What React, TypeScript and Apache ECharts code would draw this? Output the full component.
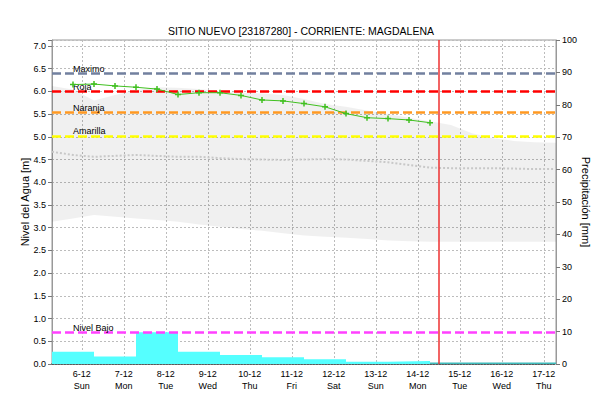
import React, { useEffect, useRef } from 'react';
import * as echarts from 'echarts';

const TITLE = 'SITIO NUEVO [23187280] - CORRIENTE: MAGDALENA';
const LEFT_NAME = 'Nivel del Agua [m]';
const RIGHT_NAME = 'Precipitación [mm]';

const axisStart = '2020-12-05 07:00';
const axisEnd = '2020-12-17 07:00';
const firstDay = '2020-12-06 00:00';
const nowTime = '2020-12-14 12:00';

const dayLabels = ['6-12', '7-12', '8-12', '9-12', '10-12', '11-12', '12-12', '13-12', '14-12', '15-12', '16-12', '17-12'];
const weekDays = ['Sun', 'Mon', 'Tue', 'Wed', 'Thu', 'Fri', 'Sat', 'Sun', 'Mon', 'Tue', 'Wed', 'Thu'];

const obsTimes = [
  '2020-12-05 19:00', '2020-12-06 07:00', '2020-12-06 19:00', '2020-12-07 07:00', '2020-12-07 19:00',
  '2020-12-08 07:00', '2020-12-08 19:00', '2020-12-09 07:00', '2020-12-09 19:00', '2020-12-10 07:00',
  '2020-12-10 19:00', '2020-12-11 07:00', '2020-12-11 19:00', '2020-12-12 07:00', '2020-12-12 19:00',
  '2020-12-13 07:00', '2020-12-13 19:00', '2020-12-14 07:00',
];
const obsLevels = [6.15, 6.16, 6.12, 6.09, 6.05, 5.93, 5.97, 5.97, 5.91, 5.81, 5.79, 5.73, 5.66, 5.51, 5.42, 5.4, 5.37, 5.31];

const bandTimes = [
  '2020-12-05 07:00', '2020-12-05 19:00', '2020-12-06 07:00', '2020-12-06 19:00', '2020-12-07 07:00',
  '2020-12-07 19:00', '2020-12-08 07:00', '2020-12-08 19:00', '2020-12-09 07:00', '2020-12-09 19:00',
  '2020-12-10 07:00', '2020-12-10 19:00', '2020-12-11 07:00', '2020-12-11 19:00', '2020-12-12 07:00',
  '2020-12-12 19:00', '2020-12-13 07:00', '2020-12-13 19:00', '2020-12-14 07:00', '2020-12-14 19:00',
  '2020-12-15 07:00', '2020-12-15 19:00', '2020-12-16 07:00', '2020-12-16 19:00', '2020-12-17 07:00',
];
const bandUpper = [6.12, 6.04, 5.8, 5.92, 6.03, 6.09, 6.08, 6.05, 6.0, 5.97, 5.95, 5.92, 5.83, 5.72, 5.66, 5.58, 5.5, 5.42, 5.34, 5.26, 5.08, 4.97, 4.91, 4.88, 4.87];
const bandLower = [3.13, 3.2, 3.28, 3.24, 3.2, 3.17, 3.13, 3.07, 3.02, 2.97, 2.93, 2.88, 2.83, 2.8, 2.78, 2.75, 2.72, 2.7, 2.69, 2.69, 2.69, 2.69, 2.69, 2.69, 2.69];
const bandMedian = [4.67, 4.6, 4.56, 4.58, 4.6, 4.58, 4.56, 4.56, 4.53, 4.51, 4.5, 4.49, 4.5, 4.51, 4.5, 4.47, 4.44, 4.38, 4.32, 4.31, 4.31, 4.31, 4.3, 4.29, 4.29];

const rainStarts = [
  '2020-12-05 07:00', '2020-12-06 07:00', '2020-12-07 07:00', '2020-12-08 07:00', '2020-12-09 07:00',
  '2020-12-10 07:00', '2020-12-11 07:00', '2020-12-12 07:00', '2020-12-13 07:00',
];
const rainValues = [3.8, 2.3, 9.8, 3.8, 2.8, 2.1, 1.45, 0.7, 0.9];
const rainEnd = '2020-12-14 07:00';

const fcRainStarts = ['2020-12-14 07:00', '2020-12-15 07:00', '2020-12-16 07:00'];
const fcRainValues = [0.5, 0.5, 0.5];
const fcRainEnd = '2020-12-17 07:00';

const thresholdNames = ['Maximo', 'Roja', 'Naranja', 'Amarilla', 'Nivel Bajo'];
const thresholdValues = [6.4, 6.0, 5.53, 5.02, 0.7];
const thresholdColors = ['#72809f', '#ff0000', '#ff9922', '#ffff00', '#ff40ff'];

const DAY = 86400000;
const FONT = 'Liberation Sans, Arial, sans-serif';

const toMs = (s: string) => {
  const [d, t] = s.split(' ');
  const [y, m, dd] = d.split('-').map(Number);
  const [hh, mm] = t.split(':').map(Number);
  return new Date(y, m - 1, dd, hh, mm).getTime();
};

const stepData = (starts: string[], vals: number[], end: string) => {
  const out: [number, number][] = starts.map((s, i) => [toMs(s), vals[i]]);
  out.push([toMs(end), vals[vals.length - 1]]);
  return out;
};

export default function App() {
  const ref = useRef<HTMLDivElement>(null);
  useEffect(() => {
    if (!ref.current) return;
    const chart = echarts.init(ref.current, undefined, { renderer: 'svg' });
    const day0 = toMs(firstDay);
    const gridLine = { show: true, lineStyle: { color: '#bcbcbc', type: [2, 2] as any, width: 1 } };

    const option: any = {
      animation: false,
      textStyle: { fontFamily: FONT },
      title: {
        text: TITLE,
        left: 'center',
        top: 20,
        textStyle: { fontSize: 10.5, fontWeight: 'normal', color: '#000', fontFamily: FONT },
      },
      grid: {
        left: 52, right: 46, top: 40, bottom: 40,
        show: true, borderColor: '#999', borderWidth: 1,
        outerBoundsMode: 'none', containLabel: false,
      },
      xAxis: {
        type: 'time',
        min: toMs(axisStart),
        max: toMs(axisEnd),
        minInterval: DAY,
        maxInterval: DAY,
        splitNumber: 12,
        axisLine: { show: true, lineStyle: { color: '#333', type: 'dotted', width: 1.5 } },
        axisTick: { show: false },
        axisLabel: {
          fontSize: 9,
          lineHeight: 12,
          color: '#000',
          margin: 4,
          hideOverlap: false,
          fontFamily: FONT,
          formatter: (v: number) => {
            const idx = Math.round((v - day0) / DAY);
            if (Math.abs(v - (day0 + idx * DAY)) > 60000) return '';
            if (idx < 0 || idx >= dayLabels.length) return '';
            return dayLabels[idx] + '\n' + weekDays[idx];
          },
        },
        splitLine: gridLine,
      },
      yAxis: [
        {
          type: 'value',
          min: 0,
          max: 7.13,
          interval: 0.5,
          position: 'left',
          name: LEFT_NAME,
          nameLocation: 'middle',
          nameGap: 22,
          nameMoveOverlap: false,
          nameTextStyle: { fontSize: 11, color: '#000', fontFamily: FONT },
          axisLine: { show: true, lineStyle: { color: '#999' } },
          axisTick: { show: true, length: 4, lineStyle: { color: '#777' } },
          axisLabel: {
            fontSize: 9,
            color: '#000',
            margin: 6,
            fontFamily: FONT,
            formatter: (v: number) => (Math.abs(v / 0.5 - Math.round(v / 0.5)) > 1e-6 ? '' : v.toFixed(1)),
          },
          splitLine: gridLine,
        },
        {
          type: 'value',
          min: 0,
          max: 100,
          interval: 10,
          position: 'right',
          name: RIGHT_NAME,
          nameLocation: 'middle',
          nameRotate: -90,
          nameGap: 24,
          nameMoveOverlap: false,
          nameTextStyle: { fontSize: 11, color: '#000', fontFamily: FONT },
          axisLine: { show: true, lineStyle: { color: '#999' } },
          axisTick: { show: true, length: 4, lineStyle: { color: '#777' } },
          axisLabel: { fontSize: 9, color: '#000', margin: 6, fontFamily: FONT },
          splitLine: { show: false },
        },
      ],
      series: [
        {
          type: 'line',
          name: 'bandLow',
          stack: 'band',
          yAxisIndex: 0,
          symbol: 'none',
          silent: true,
          lineStyle: { width: 0, opacity: 0 },
          data: bandTimes.map((t, i) => [toMs(t), bandLower[i]]),
          z: 1,
        },
        {
          type: 'line',
          name: 'band',
          stack: 'band',
          yAxisIndex: 0,
          symbol: 'none',
          silent: true,
          lineStyle: { width: 0, opacity: 0 },
          areaStyle: { color: 'rgba(0,0,0,0.058)', opacity: 1 },
          data: bandTimes.map((t, i) => [toMs(t), +(bandUpper[i] - bandLower[i]).toFixed(3)]),
          z: 1,
        },
        {
          type: 'line',
          name: 'median',
          yAxisIndex: 0,
          symbol: 'none',
          silent: true,
          lineStyle: { color: '#c8c8c8', width: 2, type: [2, 2] },
          data: bandTimes.map((t, i) => [toMs(t), bandMedian[i]]),
          z: 2,
        },
        {
          type: 'line',
          name: 'rain',
          yAxisIndex: 1,
          step: 'end',
          symbol: 'none',
          silent: true,
          lineStyle: { width: 0, opacity: 0 },
          areaStyle: { color: '#55ffff', opacity: 1 },
          data: stepData(rainStarts, rainValues, rainEnd),
          z: 3,
        },
        {
          type: 'line',
          name: 'rainForecast',
          yAxisIndex: 1,
          step: 'end',
          symbol: 'none',
          silent: true,
          lineStyle: { width: 0, opacity: 0 },
          areaStyle: { color: '#3fbcbc', opacity: 1 },
          data: stepData(fcRainStarts, fcRainValues, fcRainEnd),
          z: 3,
        },
        {
          type: 'line',
          name: 'observed',
          yAxisIndex: 0,
          symbol: 'path://M3,0h2v3h3v2h-3v3h-2v-3h-3v-2h3z',
          symbolSize: 6,
          itemStyle: { color: '#40c020' },
          lineStyle: { color: '#40c020', width: 1 },
          data: obsTimes.map((t, i) => [toMs(t), obsLevels[i]]),
          z: 5,
          markLine: {
            silent: true,
            symbol: ['none', 'none'],
            animation: false,
            data: [
              ...thresholdNames.map((n, i) => ({
                yAxis: thresholdValues[i],
                lineStyle: { color: thresholdColors[i], width: 2.5, type: [9, 4] },
                label: {
                  show: true,
                  position: 'insideStartTop',
                  distance: [21, 0],
                  formatter: n,
                  color: '#000',
                  fontSize: 9,
                  fontFamily: FONT,
                },
              })),
              {
                xAxis: toMs(nowTime),
                lineStyle: { color: '#ee3030', width: 1.5, type: 'solid' },
                label: { show: false },
              },
            ],
          },
        },
      ],
    };
    chart.setOption(option);
    return () => chart.dispose();
  }, []);
  return (
    <div
      ref={ref}
      style={{ position: 'absolute', left: 0, top: 0, width: 602, height: 404, background: '#fff' }}
    />
  );
}
